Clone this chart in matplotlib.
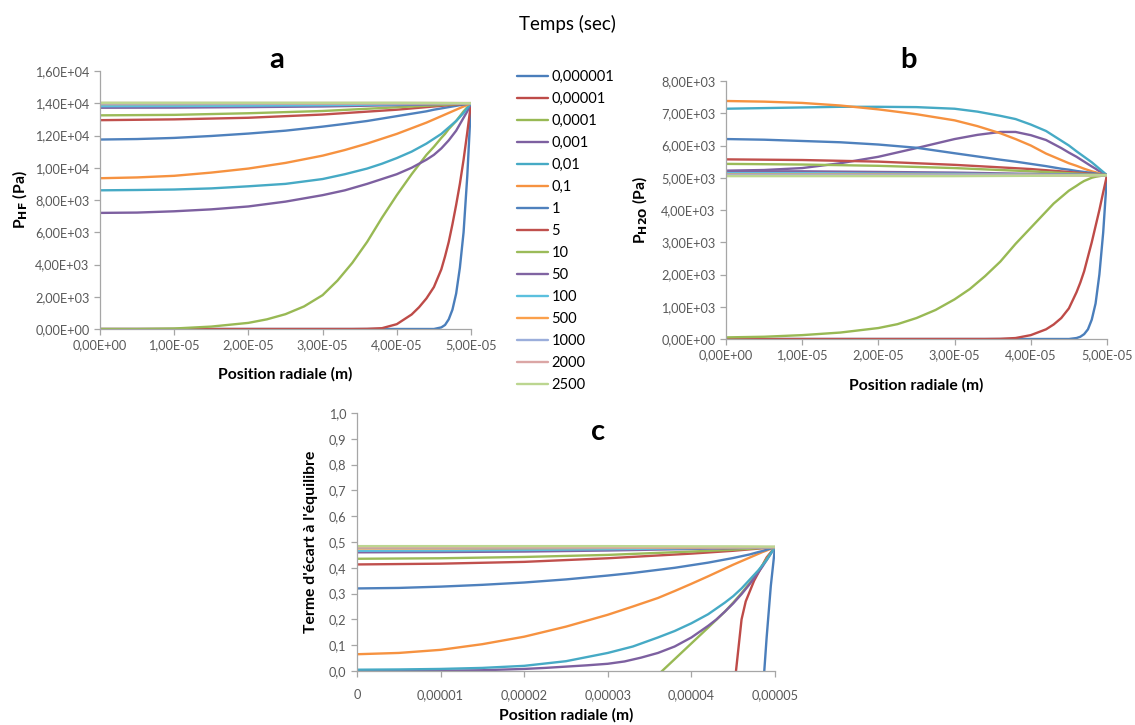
import numpy as np
import matplotlib
matplotlib.use("Agg")
import matplotlib.pyplot as plt
from matplotlib.ticker import FuncFormatter, MultipleLocator

plt.rcParams['font.family'] = ['Lato', 'DejaVu Sans']

# time labels (sec) and Excel-like colours
times = ["0,000001", "0,00001", "0,0001", "0,001", "0,01", "0,1", "1", "5",
         "10", "50", "100", "500", "1000", "2000", "2500"]
colors = ["#4A7EBB", "#BE4B48", "#98B954", "#7D60A0", "#46AAC5", "#F69240",
          "#4F81BD", "#C0504D", "#9BBB59", "#8064A2", "#5BC0DE", "#FBA04B",
          "#9BAEDB", "#DBA6A5", "#BCD690"]

# radial positions (micrometres)
r_dense = [0, 5, 10, 15, 20, 22.5, 25, 27.5, 30, 32, 34, 36, 38, 40, 42, 43, 44, 45, 46,
           46.5, 47, 47.5, 48, 48.5, 49, 49.5, 50]
r_fine = [0, 5, 10, 15, 20, 25, 30, 33, 36, 38, 40, 42, 44, 45, 46, 47, 48, 48.5, 49, 49.5, 50]
r_coarse = [0, 10, 20, 30, 40, 45, 50]

# panel a : P_HF (x1000 Pa)
a_t1 = [0, 0, 0, 0, 0, 0, 0, 0, 0, 0, 0, 0, 0, 0, 0, 0, 0, 0, 0.1, 0.25, 0.6, 1.2, 2.2, 3.8, 6.0, 9.5, 14.0]
a_t2 = [0, 0, 0, 0, 0, 0, 0, 0, 0, 0, 0, 0.01, 0.05, 0.3, 0.9, 1.35, 1.9, 2.6, 3.7, 4.5, 5.4, 6.5, 7.7, 9.0, 10.5, 12.2, 14.0]
a_t3 = [0, 0, 0.03, 0.15, 0.38, 0.6, 0.92, 1.4, 2.1, 3.0, 4.1, 5.4, 6.9, 8.3, 9.6, 10.2, 10.8, 11.3, 11.85, 12.1, 12.4, 12.65, 12.9, 13.2, 13.5, 13.75, 14.0]
a_t4 = [7.2, 7.22, 7.3, 7.42, 7.6, 7.9, 8.3, 8.6, 9.0, 9.3, 9.6, 10.0, 10.5, 10.8, 11.2, 11.7, 12.3, 12.7, 13.1, 13.5, 14.0]
a_t5 = [8.6, 8.62, 8.65, 8.72, 8.85, 9.0, 9.3, 9.6, 9.95, 10.25, 10.6, 11.0, 11.5, 11.8, 12.1, 12.5, 12.9, 13.15, 13.4, 13.7, 14.0]
a_t6 = [9.35, 9.4, 9.5, 9.7, 9.95, 10.3, 10.75, 11.1, 11.5, 11.8, 12.1, 12.45, 12.8, 13.0, 13.2, 13.4, 13.6, 13.7, 13.8, 13.9, 14.0]
a_t7 = [11.75, 11.78, 11.85, 11.97, 12.12, 12.3, 12.55, 12.72, 12.9, 13.05, 13.2, 13.35, 13.5, 13.6, 13.68, 13.76, 13.84, 13.88, 13.92, 13.96, 14.0]
a_t8 = [12.95, 13.0, 13.1, 13.3, 13.6, 13.8, 14.0]
a_t9 = [13.25, 13.28, 13.38, 13.52, 13.75, 13.87, 14.0]
a_t10 = [13.72, 13.73, 13.76, 13.8, 13.88, 13.94, 14.0]
a_t11 = [13.82, 13.83, 13.85, 13.88, 13.93, 13.96, 14.0]
a_t12 = [13.95, 13.95, 13.96, 13.97, 13.98, 13.99, 14.0]
a_t13 = [13.98, 13.98, 13.98, 13.99, 13.99, 14.0, 14.0]
a_t14 = [14.0, 14.0, 14.0, 14.0, 14.0, 14.0, 14.0]
a_t15 = [14.03, 14.03, 14.03, 14.03, 14.03, 14.02, 14.0]

# panel b : P_H2O (x1000 Pa)
b_t1 = [0, 0, 0, 0, 0, 0, 0, 0, 0, 0, 0, 0, 0, 0, 0, 0, 0, 0, 0.03, 0.07, 0.15, 0.3, 0.6, 1.1, 2.0, 3.3, 5.08]
b_t2 = [0, 0, 0, 0, 0, 0, 0, 0, 0, 0, 0, 0.005, 0.03, 0.12, 0.3, 0.45, 0.65, 0.95, 1.45, 1.75, 2.1, 2.55, 3.0, 3.5, 4.0, 4.55, 5.08]
b_t3 = [0.05, 0.07, 0.12, 0.2, 0.34, 0.46, 0.65, 0.9, 1.23, 1.55, 1.95, 2.4, 2.95, 3.45, 3.95, 4.2, 4.4, 4.6, 4.75, 4.83, 4.9, 4.95, 5.0, 5.03, 5.05, 5.07, 5.08]
b_t4 = [5.22, 5.24, 5.3, 5.45, 5.65, 5.92, 6.2, 6.33, 6.42, 6.42, 6.32, 6.17, 5.92, 5.78, 5.65, 5.5, 5.35, 5.28, 5.2, 5.14, 5.08]
b_t5 = [7.14, 7.16, 7.18, 7.2, 7.2, 7.19, 7.14, 7.05, 6.92, 6.82, 6.65, 6.45, 6.15, 6.0, 5.82, 5.65, 5.48, 5.38, 5.28, 5.18, 5.08]
b_t6 = [7.38, 7.36, 7.32, 7.24, 7.12, 6.97, 6.78, 6.6, 6.38, 6.2, 6.0, 5.75, 5.55, 5.45, 5.37, 5.28, 5.2, 5.17, 5.13, 5.1, 5.08]
b_t7 = [6.2, 6.18, 6.14, 6.1, 6.03, 5.93, 5.76, 5.66, 5.56, 5.5, 5.43, 5.36, 5.28, 5.25, 5.21, 5.18, 5.15, 5.13, 5.11, 5.1, 5.08]
b_t8 = [5.57, 5.55, 5.5, 5.4, 5.27, 5.18, 5.08]
b_t9 = [5.43, 5.41, 5.37, 5.3, 5.2, 5.14, 5.08]
b_t10 = [5.2, 5.2, 5.18, 5.16, 5.12, 5.1, 5.08]
b_t11 = [5.14, 5.14, 5.13, 5.12, 5.1, 5.09, 5.08]
b_t12 = [5.1, 5.1, 5.1, 5.09, 5.09, 5.08, 5.08]
b_t13 = [5.08, 5.08, 5.08, 5.08, 5.08, 5.08, 5.08]
b_t14 = [5.06, 5.06, 5.06, 5.06, 5.07, 5.07, 5.08]
b_t15 = [5.05, 5.05, 5.05, 5.05, 5.06, 5.07, 5.08]

# panel c : terme d'ecart a l'equilibre
c_t1 = [-2, -2, -2, -2, -2, -2, -2, -2, -2, -2, -2, -2, -2, -2, -2, -2, -2, -2, -1.5, -1.2, -0.9, -0.65, -0.4, -0.1, 0.13, 0.33, 0.48]
c_t2 = [-1.5, -1.5, -1.5, -1.5, -1.5, -1.5, -1.5, -1.5, -1.5, -1.5, -1.5, -1.5, -1.5, -1.5, -1.0, -0.75, -0.5, -0.1, 0.2, 0.27, 0.31, 0.35, 0.38, 0.41, 0.44, 0.46, 0.48]
c_t3 = [-0.5, -0.5, -0.5, -0.5, -0.5, -0.45, -0.4, -0.33, -0.25, -0.17, -0.09, -0.015, 0.046, 0.107, 0.168, 0.199, 0.23, 0.265, 0.302, 0.322, 0.342, 0.364, 0.385, 0.41, 0.435, 0.458, 0.48]
c_t4 = [0, 0, 0.001, 0.003, 0.008, 0.012, 0.017, 0.022, 0.028, 0.037, 0.052, 0.07, 0.095, 0.13, 0.175, 0.2, 0.23, 0.262, 0.298, 0.318, 0.338, 0.36, 0.382, 0.405, 0.43, 0.455, 0.48]
c_t5 = [0.005, 0.006, 0.008, 0.012, 0.02, 0.038, 0.07, 0.095, 0.13, 0.155, 0.185, 0.22, 0.265, 0.29, 0.32, 0.355, 0.39, 0.41, 0.43, 0.455, 0.48]
c_t6 = [0.065, 0.07, 0.082, 0.104, 0.133, 0.172, 0.218, 0.25, 0.283, 0.31, 0.338, 0.367, 0.397, 0.412, 0.426, 0.44, 0.454, 0.461, 0.467, 0.474, 0.48]
c_t7 = [0.32, 0.322, 0.327, 0.334, 0.343, 0.355, 0.37, 0.38, 0.392, 0.4, 0.41, 0.42, 0.432, 0.438, 0.445, 0.452, 0.461, 0.465, 0.47, 0.475, 0.48]
c_t8 = [0.413, 0.416, 0.423, 0.437, 0.455, 0.466, 0.48]
c_t9 = [0.435, 0.437, 0.442, 0.45, 0.463, 0.47, 0.48]
c_t10 = [0.46, 0.461, 0.463, 0.467, 0.473, 0.476, 0.48]
c_t11 = [0.466, 0.467, 0.469, 0.472, 0.476, 0.478, 0.48]
c_t12 = [0.475, 0.475, 0.476, 0.477, 0.478, 0.479, 0.48]
c_t13 = [0.479, 0.479, 0.479, 0.479, 0.48, 0.48, 0.48]
c_t14 = [0.481, 0.481, 0.481, 0.481, 0.481, 0.481, 0.481]
c_t15 = [0.484, 0.484, 0.484, 0.484, 0.483, 0.483, 0.482]

series_a = [a_t1, a_t2, a_t3, a_t4, a_t5, a_t6, a_t7, a_t8, a_t9, a_t10, a_t11, a_t12, a_t13, a_t14, a_t15]
series_b = [b_t1, b_t2, b_t3, b_t4, b_t5, b_t6, b_t7, b_t8, b_t9, b_t10, b_t11, b_t12, b_t13, b_t14, b_t15]
series_c = [c_t1, c_t2, c_t3, c_t4, c_t5, c_t6, c_t7, c_t8, c_t9, c_t10, c_t11, c_t12, c_t13, c_t14, c_t15]

grids = {len(r_dense): r_dense, len(r_fine): r_fine, len(r_coarse): r_coarse}

W, H = 1135, 725
fig = plt.figure(figsize=(W / 100, H / 100), dpi=100)

def px_axes(x0, y0, x1, y1):
    return fig.add_axes([x0 / W, 1 - y1 / H, (x1 - x0) / W, (y1 - y0) / H])

ax_a = px_axes(100, 71, 471, 329)
ax_b = px_axes(726, 81, 1107, 339)
ax_c = px_axes(357, 413, 775, 671)

excel_fmt = FuncFormatter(lambda v, p: f"{v:.2E}".replace('.', ','))
grey = "#A6A6A6"
tick_col = "#595959"

def draw(ax, series, scale):
    lines = []
    for i, vals in enumerate(series):
        x = np.array(grids[len(vals)]) * 1e-6
        ln, = ax.plot(x, np.array(vals) * scale, color=colors[i], lw=1.7,
                      solid_capstyle='round', solid_joinstyle='round')
        lines.append(ln)
    ax.set_xlim(0, 5e-5)
    ax.xaxis.set_major_locator(MultipleLocator(1e-5))
    for s in ['top', 'right']:
        ax.spines[s].set_visible(False)
    for s in ['left', 'bottom']:
        ax.spines[s].set_color(grey)
        ax.spines[s].set_linewidth(0.9)
    ax.tick_params(colors=grey, labelcolor=tick_col, labelsize=9.2, length=4, width=0.9)
    return lines

lab_kw = dict(fontsize=11.3, fontweight='bold')

lines_a = draw(ax_a, series_a, 1e3)
ax_a.set_ylim(0, 1.6e4)
ax_a.yaxis.set_major_locator(MultipleLocator(2e3))
ax_a.xaxis.set_major_formatter(excel_fmt)
ax_a.yaxis.set_major_formatter(excel_fmt)
ax_a.set_xlabel("Position radiale (m)", labelpad=11, **lab_kw)
ax_a.set_ylabel("P$_{\\mathbf{HF}}$ (Pa)", labelpad=4, **lab_kw)

draw(ax_b, series_b, 1e3)
ax_b.set_ylim(0, 8e3)
ax_b.yaxis.set_major_locator(MultipleLocator(1e3))
ax_b.xaxis.set_major_formatter(excel_fmt)
ax_b.yaxis.set_major_formatter(excel_fmt)
ax_b.set_xlabel("Position radiale (m)", labelpad=12, **lab_kw)
ax_b.set_ylabel("P$_{\\mathbf{H2O}}$ (Pa)", labelpad=8, **lab_kw)

draw(ax_c, series_c, 1.0)
ax_c.set_ylim(0, 1.0)
ax_c.yaxis.set_major_locator(MultipleLocator(0.1))
ax_c.xaxis.set_major_formatter(FuncFormatter(
    lambda v, p: "0" if abs(v) < 1e-12 else f"{v:.5f}".replace('.', ',')))
ax_c.yaxis.set_major_formatter(FuncFormatter(lambda v, p: f"{v:.1f}".replace('.', ',')))
ax_c.tick_params(axis='x', pad=9)
ax_c.set_xlabel("Position radiale (m)", labelpad=5, **lab_kw)
ax_c.set_ylabel("Terme d'écart à l'équilibre", labelpad=8, **lab_kw)

# panel letters and title
fig.text(277 / W, 1 - 60 / H, "a", fontsize=21, fontweight='bold', ha='center', va='center')
fig.text(908 / W, 1 - 60 / H, "b", fontsize=21, fontweight='bold', ha='center', va='center')
fig.text(598 / W, 1 - 432 / H, "c", fontsize=21, fontweight='bold', ha='center', va='center')
fig.text(567 / W, 1 - 24 / H, "Temps (sec)", fontsize=13.5, ha='center', va='center')

fig.legend(lines_a, times, loc='upper left', bbox_to_anchor=(517 / W, 1 - 70 / H),
           frameon=False, fontsize=10.5, handlelength=2.15, handletextpad=0.2,
           labelspacing=0.55, borderaxespad=0, borderpad=0)

fig.savefig("out.png", dpi=100)
